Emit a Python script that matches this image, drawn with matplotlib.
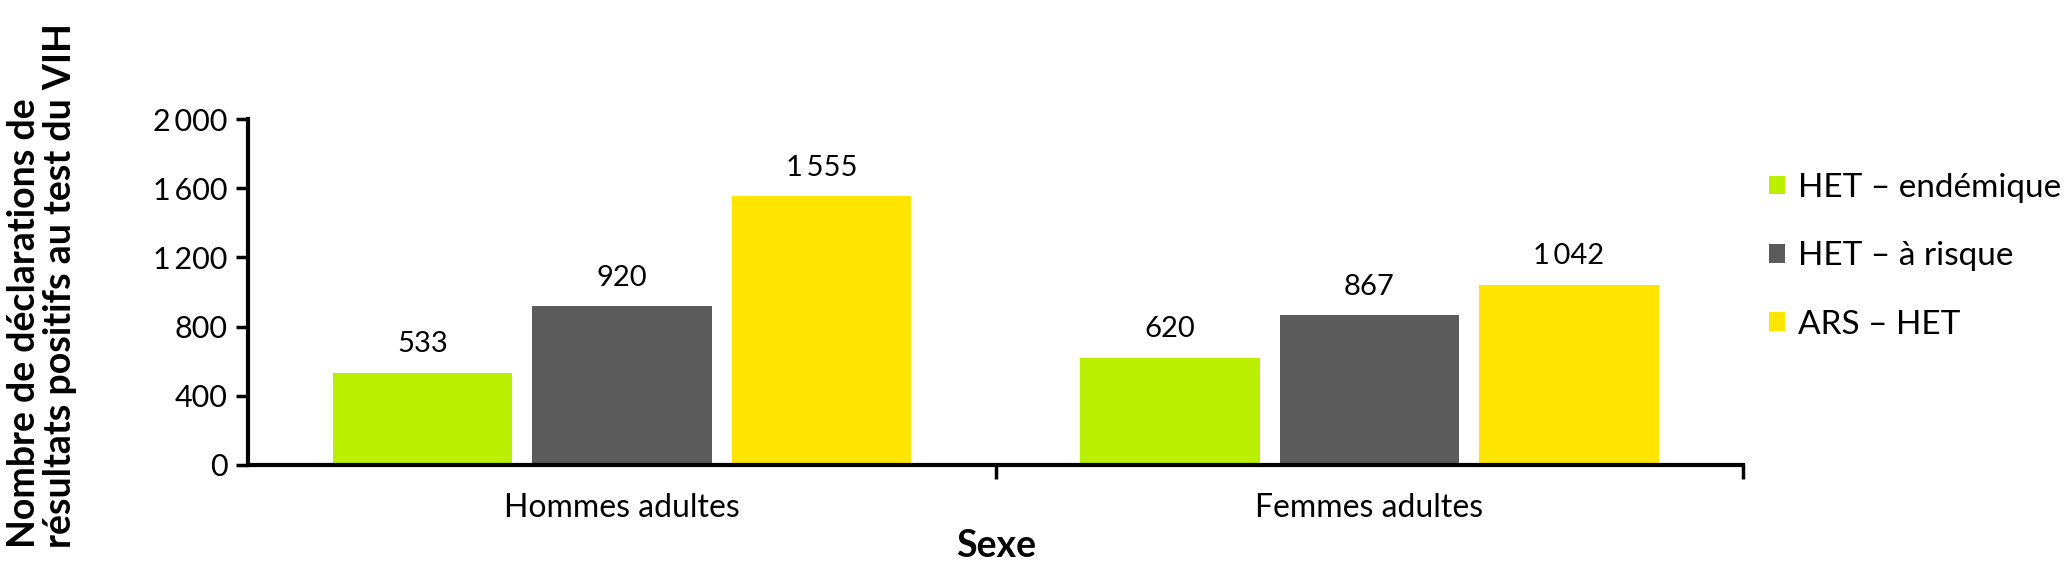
import matplotlib.pyplot as plt
import numpy as np

# Données
categories = ['Hommes adultes', 'Femmes adultes']
series = ['HET – endémique', 'HET – à risque', 'ARS – HET']
het_endemique = [533, 620]
het_risque = [920, 867]
ars_het = [1555, 1042]
couleurs = ['#BBEF00', '#5B5B5B', '#FFE500']
yticks = [0, 400, 800, 1200, 1600, 2000]

FONT = ['Lato', 'DejaVu Sans']
plt.rcParams['font.family'] = FONT


def fmt(v):
    # espace fine pour les milliers
    return f'{v:,}'.replace(',', '\u2009')


fig = plt.figure(figsize=(20.71, 5.67), dpi=100)
ax = fig.add_axes([0.1198, 0.180, 0.7219, 0.610])

x = np.arange(len(categories))
largeur = 0.240
pas = 0.267
valeurs = [het_endemique, het_risque, ars_het]

for i, (vals, nom, c) in enumerate(zip(valeurs, series, couleurs)):
    bars = ax.bar(x + (i - 1) * pas, vals, largeur, color=c, label=nom)
    for b, v in zip(bars, vals):
        ax.annotate(fmt(v), (b.get_x() + b.get_width() / 2, v),
                    xytext=(0, 11), textcoords='offset points',
                    ha='center', va='bottom', fontsize=21)

ax.set_xlim(-0.5, 1.5)
ax.set_ylim(0, 2000)
ax.set_yticks(yticks)
ax.set_yticklabels([fmt(v) for v in yticks], fontsize=22)

# ticks séparateurs, étiquettes des catégories en ticks mineurs
ax.set_xticks([0.5, 1.5])
ax.set_xticklabels(['', ''])
ax.set_xticks(x, minor=True)
ax.set_xticklabels(categories, minor=True, fontsize=23)
ax.tick_params(axis='x', which='major', length=10, width=2.5, direction='out')
ax.tick_params(axis='x', which='minor', length=0, pad=20)
ax.tick_params(axis='y', length=9, width=2.5, pad=6)

for s in ['top', 'right']:
    ax.spines[s].set_visible(False)
for s in ['left', 'bottom']:
    ax.spines[s].set_linewidth(3)

ax.set_xlabel('Sexe', fontsize=27, fontweight='bold')
ax.xaxis.set_label_coords(0.5, -0.185)
ax.xaxis.label.set_va('top')

fig.text(0.0034, 0.0335, 'Nombre de déclarations de\nrésultats positifs au test du VIH',
         rotation=90, ha='left', va='bottom', multialignment='left',
         fontsize=27, fontweight='bold', linespacing=1.08)

fig.legend(loc='center left', bbox_to_anchor=(0.854, 0.548), frameon=False,
           fontsize=24, handlelength=0.48, handleheight=0.48, handletextpad=0.4,
           labelspacing=1.15, borderaxespad=0, borderpad=0)

fig.savefig('out.png', dpi=100)
